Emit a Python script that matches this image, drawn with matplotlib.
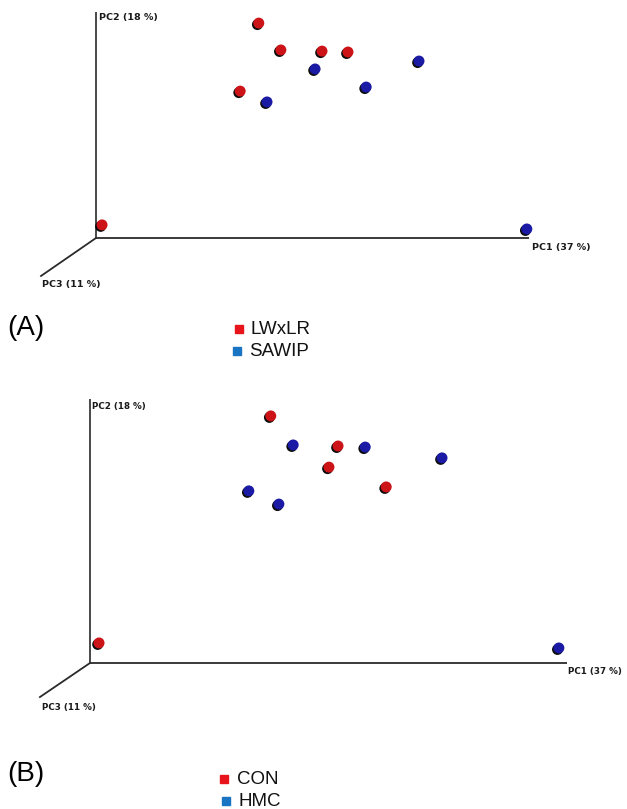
import matplotlib
matplotlib.use("Agg")
import matplotlib.pyplot as plt
import matplotlib.patheffects as pe
from matplotlib.lines import Line2D

W, H = 627, 809

# projected PCoA coordinates (fraction of PC1 / PC2 axis length)
a_red_x = [0.376, 0.427, 0.522, 0.582, 0.333, 0.014]
a_red_y = [0.951, 0.832, 0.827, 0.823, 0.650, 0.058]
a_blue_x = [0.506, 0.746, 0.624, 0.395, 0.995]
a_blue_y = [0.748, 0.783, 0.668, 0.602, 0.040]

b_red_x = [0.379, 0.520, 0.501, 0.621, 0.019]
b_red_y = [0.936, 0.822, 0.742, 0.667, 0.076]
b_blue_x = [0.426, 0.577, 0.738, 0.333, 0.396, 0.983]
b_blue_y = [0.826, 0.818, 0.777, 0.652, 0.602, 0.057]

axis_labels = ["PC1 (37 %)", "PC2 (18 %)", "PC3 (11 %)"]
a_groups = ["LWxLR", "SAWIP"]
b_groups = ["CON", "HMC"]

RED = "#cc1418"
BLUE = "#1a1aa4"
LEG_RED = "#e8141c"
LEG_BLUE = "#1a74c4"


def panel_axes(fig, origin, xlen, ylen, xlim, ylim):
    """ Axes whose data unit 1 equals the drawn PC1 / PC2 axis length (pixels). """
    ox, oy = origin
    left = ox + xlen * xlim[0]
    right = ox + xlen * xlim[1]
    bottom = oy - ylen * ylim[0]
    top = oy - ylen * ylim[1]
    ax = fig.add_axes([left / W, 1 - bottom / H, (right - left) / W, (bottom - top) / H])
    ax.set_xlim(*xlim)
    ax.set_ylim(*ylim)
    ax.axis('off')
    return ax


def draw_panel(ax, pc3_end, red, blue, lab_pos, lab_size):
    ax.plot([0, 1], [0, 0], color='#2a2a2a', lw=1.3, solid_capstyle='butt')
    ax.plot([0, 0], [0, 1], color='#3a3a3a', lw=1.3, solid_capstyle='butt')
    ax.plot([0, pc3_end[0]], [0, pc3_end[1]], color='#2a2a2a', lw=1.3)

    shadow = [pe.SimplePatchShadow(offset=(-1.0, -1.1), shadow_rgbFace='k', alpha=0.95), pe.Normal()]
    for (xs, ys), col in zip([red, blue], [RED, BLUE]):
        sc = ax.scatter(xs, ys, s=62, color=col, edgecolors='none', zorder=3, clip_on=False)
        sc.set_path_effects(shadow)

    for txt, (x, y) in zip(axis_labels, lab_pos):
        ax.text(x, y, txt, fontsize=lab_size, fontweight='bold', ha='left', va='center',
                family='DejaVu Sans', color='#1a1a1a')


def legend(fig, letter, letter_y, entries):
    fig.text(7 / W, 1 - letter_y / H, letter, fontsize=20, ha='left', va='center',
             family='Liberation Sans')
    for name, col, (mx, my), tx in entries:
        fig.add_artist(Line2D([mx / W], [1 - my / H], marker='s', markersize=6,
                              color=col, linestyle='none', transform=fig.transFigure))
        fig.text(tx / W, 1 - my / H, name, fontsize=13.5, ha='left', va='center',
                 family='Liberation Sans', color='#111111')


fig = plt.figure(figsize=(W / 100, H / 100), dpi=100)

ax_a = panel_axes(fig, (96, 238), 433, 226, (-0.2, 1.2), (-0.3, 1.05))
draw_panel(ax_a, (-0.127, -0.168), (a_red_x, a_red_y), (a_blue_x, a_blue_y),
           [(1.007, -0.04), (0.006, 0.975), (-0.125, -0.204)], 6.8)

ax_b = panel_axes(fig, (90, 663), 477, 264, (-0.18, 1.15), (-0.25, 1.05))
draw_panel(ax_b, (-0.105, -0.129), (b_red_x, b_red_y), (b_blue_x, b_blue_y),
           [(1.002, -0.034), (0.005, 0.970), (-0.10, -0.170)], 6.3)

legend(fig, "(A)", 328, [(a_groups[0], LEG_RED, (239, 329), 251),
                         (a_groups[1], LEG_BLUE, (237, 351), 249)])
legend(fig, "(B)", 774, [(b_groups[0], LEG_RED, (224, 779), 237),
                         (b_groups[1], LEG_BLUE, (226, 801), 238)])

fig.savefig("out.png", dpi=100)
